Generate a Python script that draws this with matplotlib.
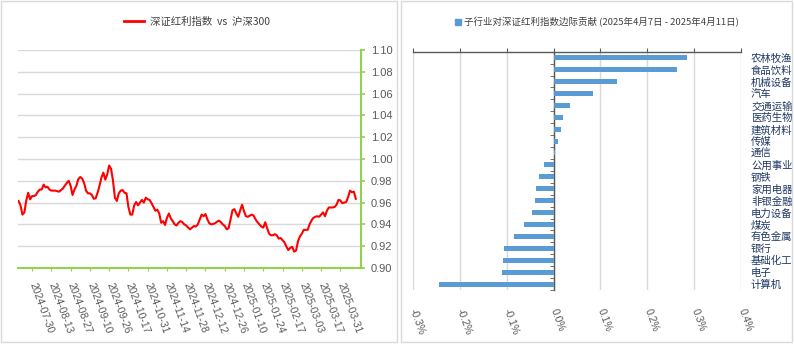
import matplotlib
matplotlib.use("Agg")
import matplotlib.pyplot as plt
import matplotlib.patches as mpatches
from matplotlib.lines import Line2D
from matplotlib.ticker import FixedLocator
import numpy as np
import pandas as pd

plt.rcParams['font.family'] = ['Noto Sans CJK SC', 'DejaVu Sans']

# ---------------- data: left panel ----------------
start_date = '2024-07-19'
end_date = '2025-04-11'
holidays = ['2024-09-16', '2024-09-17',
            '2024-10-01', '2024-10-02', '2024-10-03', '2024-10-04', '2024-10-07',
            '2025-01-01', '2025-01-28', '2025-01-29', '2025-01-30', '2025-01-31',
            '2025-02-03', '2025-02-04', '2025-04-04']
ratio_values = [
    0.9615, 0.9575, 0.949, 0.951, 0.962, 0.969, 0.963, 0.966, 0.966, 0.967,
    0.970, 0.972, 0.972, 0.9765, 0.974, 0.9745, 0.972, 0.971, 0.971, 0.971,
    0.9705, 0.970, 0.9715, 0.973, 0.9755, 0.978, 0.980, 0.9755, 0.967, 0.972,
    0.9755, 0.9815, 0.9835, 0.982, 0.978, 0.971, 0.9685, 0.9685, 0.967, 0.9635,
    0.964, 0.969, 0.9755, 0.983, 0.9875, 0.981, 0.986, 0.994, 0.991, 0.980,
    0.9645, 0.9615, 0.9685, 0.971, 0.9715, 0.969, 0.9685, 0.956, 0.949, 0.949,
    0.9575, 0.9605, 0.9575, 0.960, 0.9625, 0.960, 0.9645, 0.963, 0.9625, 0.9595,
    0.956, 0.9525, 0.9535, 0.950, 0.9415, 0.943, 0.9395, 0.946, 0.950, 0.9455,
    0.943, 0.940, 0.939, 0.9415, 0.943, 0.942, 0.940, 0.939, 0.937, 0.9355,
    0.937, 0.9385, 0.938, 0.940, 0.9445, 0.949, 0.9475, 0.9495, 0.9445, 0.941,
    0.940, 0.9405, 0.941, 0.9425, 0.9435, 0.942, 0.940, 0.9385, 0.9355, 0.9365,
    0.9445, 0.953, 0.954, 0.950, 0.947, 0.953, 0.958, 0.952, 0.9475, 0.947,
    0.948, 0.949, 0.948, 0.9445, 0.942, 0.940, 0.938, 0.937, 0.942, 0.9365,
    0.9315, 0.930, 0.930, 0.931, 0.930, 0.927, 0.9275, 0.9255, 0.9235, 0.9195,
    0.9165, 0.9185, 0.9195, 0.915, 0.916, 0.9245, 0.929, 0.9315, 0.935, 0.935,
    0.935, 0.940, 0.9435, 0.946, 0.947, 0.9475, 0.947, 0.949, 0.951, 0.9475,
    0.9525, 0.9555, 0.9555, 0.9555, 0.956, 0.958, 0.9625, 0.962, 0.9595, 0.960,
    0.9605, 0.965, 0.971, 0.9695, 0.970, 0.9635,
]
date_tick_labels = ['2024-07-30', '2024-08-13', '2024-08-27', '2024-09-10', '2024-09-26',
                    '2024-10-17', '2024-10-31', '2024-11-14', '2024-11-28', '2024-12-12',
                    '2024-12-26', '2025-01-10', '2025-01-24', '2025-02-17', '2025-03-03',
                    '2025-03-17', '2025-03-31']
y_ticks_left = [0.90, 0.92, 0.94, 0.96, 0.98, 1.00, 1.02, 1.04, 1.06, 1.08, 1.10]
left_legend = '深证红利指数  vs  沪深300'

# ---------------- data: right panel ----------------
industries = ['农林牧渔', '食品饮料', '机械设备', '汽车', '交通运输', '医药生物', '建筑材料',
              '传媒', '通信', '公用事业', '钢铁', '家用电器', '非银金融', '电力设备', '煤炭',
              '有色金属', '银行', '基础化工', '电子', '计算机']
contrib_pct = [0.285, 0.2625, 0.135, 0.084, 0.0355, 0.021, 0.0164, 0.009, 0.004,
               -0.021, -0.030, -0.037, -0.040, -0.045, -0.063, -0.084, -0.1055,
               -0.107, -0.1106, -0.243]
x_ticks_right = [-0.3, -0.2, -0.1, 0.0, 0.1, 0.2, 0.3, 0.4]
x_tick_labels_right = ['-0.3%', '-0.2%', '-0.1%', '0.0%', '0.1%', '0.2%', '0.3%', '0.4%']
right_legend = '子行业对深证红利指数边际贡献 (2025年4月7日 - 2025年4月11日)'

# ---------------- figure ----------------
W, H = 794, 344
fig = plt.figure(figsize=(W / 100, H / 100), dpi=100)
fig.patch.set_facecolor('white')

def fx(px):
    return px / W

def fy(py):
    return 1 - py / H

# panel borders
border_col = '#D9D9D9'
fig.add_artist(mpatches.Rectangle((fx(1), fy(342)), fx(396), 341 / H, fill=False,
                                  edgecolor=border_col, lw=1.0, transform=fig.transFigure))
fig.add_artist(mpatches.Rectangle((fx(401), fy(342)), fx(391), 341 / H, fill=False,
                                  edgecolor=border_col, lw=1.0, transform=fig.transFigure))

gray_txt = '#595959'
green = '#92D050'

# ---------- left axes ----------
holiday_idx = pd.to_datetime(holidays)
dates = [d for d in pd.bdate_range(start_date, end_date) if d not in holiday_idx]
date_str = [d.strftime('%Y-%m-%d') for d in dates]
x = np.arange(len(ratio_values))

axL = fig.add_axes([fx(18), fy(268), fx(361 - 18), (268 - 50) / H])
line, = axL.plot(x, ratio_values, color='#FF0000', lw=1.5, solid_joinstyle='round')
axL.set_ylim(0.90, 1.10)
axL.set_xlim(-0.3, 177.7)
axL.set_yticks(y_ticks_left)
axL.set_yticklabels([f'{v:.2f}' for v in y_ticks_left])
axL.yaxis.tick_right()
axL.grid(axis='y', color='#D9D9D9', lw=1.0)
axL.set_axisbelow(True)
for s in ['top', 'left']:
    axL.spines[s].set_visible(False)
for s in ['right', 'bottom']:
    axL.spines[s].set_color(green)
    axL.spines[s].set_linewidth(1.5)
tick_pos = [date_str.index(t) for t in date_tick_labels]
axL.set_xticks(tick_pos)
axL.set_xticklabels(date_tick_labels, rotation=-70, ha='left', va='center',
                    rotation_mode='anchor', fontsize=7.5, color=gray_txt,
                    family=['Liberation Sans', 'DejaVu Sans'])
axL.tick_params(axis='x', length=2, color=green, pad=9)
axL.tick_params(axis='y', length=3, color=green, width=1.2, pad=4, labelsize=8,
                labelcolor=gray_txt)
for lab in axL.get_yticklabels():
    lab.set_family(['Liberation Sans', 'DejaVu Sans'])

fig.legend(handles=[Line2D([], [], color='#FF0000', lw=2)], labels=[left_legend],
           loc='center', bbox_to_anchor=(fx(197), fy(22)), frameon=False,
           fontsize=7.5, handlelength=1.9, handletextpad=0.6, labelcolor='#404040')

# ---------- right axes ----------
axR = fig.add_axes([fx(412.7), fy(290), fx(741.3 - 412.7), (290 - 51.7) / H])
ypos = np.arange(len(industries))
bars = axR.barh(ypos, contrib_pct, height=0.42, color='#5B9BD5', zorder=3)
axR.set_xlim(-0.3, 0.4)
axR.set_ylim(len(industries) - 0.5, -0.5)
axR.set_xticks(x_ticks_right)
axR.set_xticklabels(x_tick_labels_right, rotation=-70, ha='left', va='center',
                    rotation_mode='anchor', fontsize=7.5, color=gray_txt,
                    family=['Liberation Sans', 'DejaVu Sans'])
axR.grid(axis='x', color='#D9D9D9', lw=1.0)
axR.set_axisbelow(True)
axR.tick_params(axis='x', top=True, bottom=False, labeltop=False, labelbottom=True,
                direction='out', length=3, color='#595959', pad=11)
axR.spines['top'].set_color('#595959')
axR.spines['top'].set_linewidth(1.0)
axR.spines['bottom'].set_visible(False)
axR.spines['right'].set_visible(False)
axR.spines['left'].set_position(('data', 0))
axR.spines['left'].set_color('#595959')
axR.spines['left'].set_linewidth(1.0)
axR.set_yticks(ypos)
axR.set_yticklabels(industries)
axR.yaxis.set_minor_locator(FixedLocator(np.arange(-0.5, len(industries), 1.0)))
axR.tick_params(axis='y', which='minor', left=True, right=False, length=3,
                color='#595959', direction='out')
axR.tick_params(axis='y', which='major', left=False, right=True, length=0,
                labelleft=False, labelright=True, pad=7, labelsize=7.5,
                labelcolor='#1F3864')
for lab in axR.get_yticklabels():
    lab.set_horizontalalignment('left')

fig.legend(handles=[mpatches.Patch(color='#5B9BD5')], labels=[right_legend],
           loc='center', bbox_to_anchor=(fx(597), fy(22)), frameon=False,
           fontsize=6.8, handlelength=0.6, handleheight=0.6, handletextpad=0.3,
           labelcolor='#404040')

fig.savefig('out.png', dpi=100, facecolor='white')
